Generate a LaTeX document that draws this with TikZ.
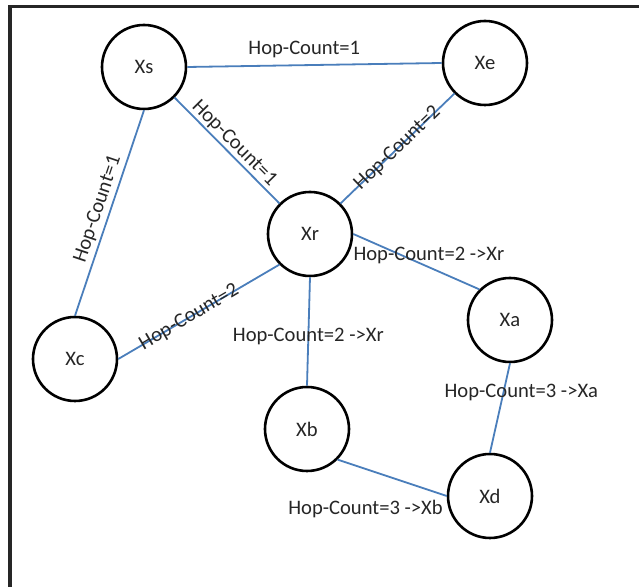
\documentclass[tikz,border=0pt]{standalone}
\usepackage{fontspec}
\setmainfont{Carlito}
\usetikzlibrary{calc, positioning}
\definecolor{hopblue}{RGB}{74,126,187}
\definecolor{hopink}{RGB}{38,38,38}
\tikzset{
  hop/station/.style={draw, circle, line width=1.3pt, minimum size=42pt, inner sep=0pt, text=hopink, font=\fontsize{10.3}{12}\selectfont},
  hop/link/.style={draw=hopblue, line width=0.9pt},
  hop/label/.style={font=\fontsize{10.3}{12}\selectfont, text=hopink, inner sep=1.5pt},
  hop/frame/.style={draw=black!85, line width=1.5pt},
}

\begin{document}
\begin{tikzpicture}[x=0.5pt, y=-0.5pt]
  \useasboundingbox (0,0) rectangle (639,587);

  % Moldura
  \draw[hop/frame] (10,587) -- (10,7) -- (639,7);

  % Nos
  \node[hop/station] (xs) at (144,67) {Xs};
  \node[hop/station] (xe) at (485,63) {Xe};
  \node[hop/station] (xr) at (310,234) {Xr};
  \node[hop/station] (xc) at (75,359) {Xc};
  \node[hop/station] (xa) at (510,320) {Xa};
  \node[hop/station] (xb) at (307,429) {Xb};
  \node[hop/station] (xd) at (490,496) {Xd};

  % Enlaces
  \draw[hop/link] (xs.east) -- node[hop/label, pos=0.46, above, inner sep=3pt] (lse) {Hop-Count=1} (xe.west);
  \draw[hop/link] (xs.south east) -- node[hop/label, midway, sloped, above, inner sep=0.5pt] (lsr) {Hop-Count=1} (xr.north west);
  \draw[hop/link] (xs.south) -- node[hop/label, midway, sloped, above] (lsc) {Hop-Count=1} (xc.north);
  \draw[hop/link] (xe.south west) -- node[hop/label, midway, sloped] (ler) {Hop-Count=2} (xr.north east);
  \draw[hop/link] (xc.east) -- node[hop/label, pos=0.44, sloped] (lcr) {Hop-Count=2} (xr.south west);

  % Rotas de volta
  \draw[hop/link] (xr.east) -- node[hop/label, pos=0.6, above] (lra) {Hop-Count=2 ->Xr} (xa.north west);
  \draw[hop/link] (xr.south) -- node[hop/label, pos=0.55] (lrb) {Hop-Count=2 ->Xr} (xb.north);
  \draw[hop/link] (xa.south) -- node[hop/label, pos=0.33, xshift=9pt] (lad) {Hop-Count=3 ->Xa} (xd.north);
  \draw[hop/link] (xb.south east) -- node[hop/label, at end, below left] (lbd) {Hop-Count=3 ->Xb} (xd.west);

\end{tikzpicture}
\end{document}
